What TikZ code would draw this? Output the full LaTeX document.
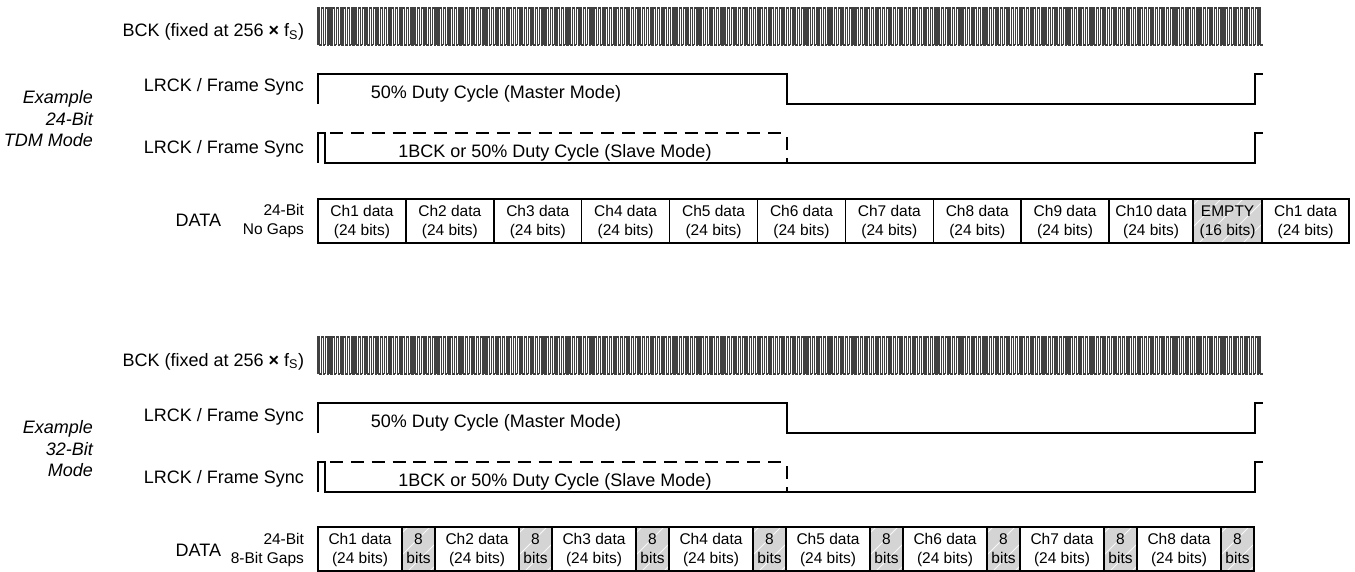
\documentclass[tikz,border=0pt]{standalone}
\usepackage{fontspec}
\setmainfont{Liberation Sans}
\usetikzlibrary{positioning}
% bit clock, one rising edge per BCK period, #1 = top of the trace
\newcommand\bckwave[1]{
  \foreach \k in {0,...,255}
    \draw[clockline] ({318+3.69*\k},#1+37) -- ++(0,-37) -- ++(1.845,0) -- ++(0,37) -- ++(1.845,0);
}
% both LRCK traces, #1 = top of the master trace
\newcommand\lrckwave[1]{
  \draw[wave] (318,#1+30) -- (318,#1) -- (787,#1) -- (787,#1+30) -- (1255,#1+30) -- (1255,#1) -- (1263,#1);
  \draw[wave] (318,#1+89) -- (318,#1+59) -- (325,#1+59) -- (325,#1+89) -- (1255,#1+89) -- (1255,#1+59) -- (1263,#1+59);
  \draw[wave, dash pattern=on 13pt off 7.86pt] (330,#1+59) -- (784,#1+59);
  \draw[wave, dash pattern=on 13pt off 8pt] (787,#1+63) -- (787,#1+89);
}
\begin{document}
\begin{tikzpicture}[
      x=1pt, y=-1pt,
      node distance=0pt,
      every node/.append style={inner sep=0pt, outer sep=0pt},
      clockline/.style={black!75, line width=1.2pt},
      wave/.style={line width=1.5pt},
      siglabel/.style={anchor=base east, font=\fontsize{18}{21}\selectfont},
      wavetext/.style={anchor=base, font=\fontsize{18}{21}\selectfont},
      sublabel/.style={anchor=east, align=right, font=\fontsize{15.5}{19}\selectfont},
      modelabel/.style={anchor=east, align=right, font=\fontsize{18}{21.5}\selectfont\itshape},
      chbox/.style={rectangle, draw, line width=1.5pt, minimum height=44pt, align=center,
                    text depth=1.5pt, font=\fontsize{15.5}{19}\selectfont},
      gapbox/.style={chbox, fill=black!17, path picture={
                    \foreach \s in {-60,-38,...,120}
                      \draw[white, opacity=0.85, line width=0.9pt] ([xshift=\s pt]path picture bounding box.south west)
                        -- ++(50pt,50pt);}},
    ]
      \useasboundingbox (0,0) rectangle (1355,572);

      % 24-bit TDM mode
      \node[modelabel] (modeA) at (93,119) {Example\\24-Bit\\TDM Mode};
      \node[siglabel] (bckA) at (304,37) {BCK (fixed at 256 \textbf{×} f\textsubscript{S})};
      \node[siglabel] (masterA) at (304,92) {LRCK / Frame Sync};
      \node[siglabel] (slaveA) at (304,154) {LRCK / Frame Sync};
      \node[siglabel] (dataA) at (221,227) {DATA};
      \node[sublabel] (gapsA) at (304,221) {24-Bit\\No Gaps};
      \bckwave{8}
      \lrckwave{74}
      \node[wavetext] (dutyA) at (496,99) {50\% Duty Cycle (Master Mode)};
      \node[wavetext] (dutyB) at (555,158) {1BCK or 50\% Duty Cycle (Slave Mode)};

      \node[chbox, minimum width=87.9pt, anchor=north west] (a1) at (318,199) {Ch1 data\\(24 bits)};
      \foreach \n in {2,...,9} {
        \pgfmathtruncatemacro\m{\n-1}
        \node[chbox, minimum width=87.9pt, right=of a\m] (a\n) {Ch\n{} data\\(24 bits)};
      }
      \node[chbox, minimum width=84pt, right=of a9] (a10) {Ch10 data\\(24 bits)};
      \node[gapbox, minimum width=69pt, right=of a10] (empty) {EMPTY\\(16 bits)};
      \node[chbox, minimum width=87pt, right=of empty] (a11) {Ch1 data\\(24 bits)};

      % 32-bit mode
      \node[modelabel] (modeB) at (93,449) {Example\\32-Bit\\Mode};
      \node[siglabel] (bckB) at (304,366) {BCK (fixed at 256 \textbf{×} f\textsubscript{S})};
      \node[siglabel] (masterB) at (304,421) {LRCK / Frame Sync};
      \node[siglabel] (slaveB) at (304,483) {LRCK / Frame Sync};
      \node[siglabel] (dataB) at (221,556) {DATA};
      \node[sublabel] (gapsB) at (304,550) {24-Bit\\8-Bit Gaps};
      \bckwave{337}
      \lrckwave{403}
      \node[wavetext] (dutyC) at (496,427) {50\% Duty Cycle (Master Mode)};
      \node[wavetext] (dutyD) at (555,486) {1BCK or 50\% Duty Cycle (Slave Mode)};

      \coordinate (g0) at (318,549);
      \foreach \n in {1,...,8} {
        \pgfmathtruncatemacro\m{\n-1}
        \node[chbox, minimum width=84pt, right=of g\m] (c\n) {Ch\n{} data\\(24 bits)};
        \node[gapbox, minimum width=33pt, right=of c\n] (g\n) {8\\bits};
      }
    \end{tikzpicture}
\end{document}
